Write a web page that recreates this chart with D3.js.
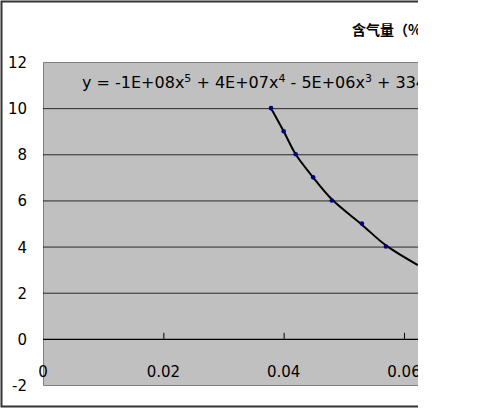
<!DOCTYPE html>
<html><head><meta charset="utf-8">
<script src="https://cdn.jsdelivr.net/npm/d3@7"></script>
<style>body{margin:0;background:#fff}</style>
</head><body>
<svg id="chart" width="500" height="408"></svg>
<script>
const xVals = [0.0379, 0.040, 0.042, 0.0449, 0.048, 0.053, 0.057];
const yVals = [10, 9, 8, 7, 6, 5, 4];
// trend line (continues past the last point to the cut edge)
const trendX = [0.0379, 0.040, 0.042, 0.0449, 0.048, 0.053, 0.057, 0.0623];
const trendY = [10, 9.0, 8.0, 7.0, 6.05, 4.95, 4.05, 3.2];
const xTicks = [0, 0.02, 0.04, 0.06];
const yTicks = [-2, 0, 2, 4, 6, 8, 10, 12];

const svg = d3.select("#chart");
const x = d3.scaleLinear().domain([0, 0.06]).range([43, 404]);
const y = d3.scaleLinear().domain([-2, 12]).range([385, 62]);
const right = 418;

// outer chart border (cut on the right)
svg.append("path").attr("d", `M${right},1.5H1.5V406.5H${right}`)
  .attr("fill", "none").attr("stroke", "#333").attr("stroke-width", 2);

svg.append("rect").attr("x", 43).attr("y", 62).attr("width", right - 43).attr("height", 323)
  .attr("fill", "#c0c0c0");
svg.append("path").attr("d", `M${right},62.5H43.5V385.5H${right}`)
  .attr("fill", "none").attr("stroke", "#808080");

svg.selectAll(".grid").data(yTicks.filter(d => d > -2 && d < 12)).enter().append("line")
  .attr("x1", 43).attr("x2", right).attr("y1", d => y(d) + 0.5).attr("y2", d => y(d) + 0.5)
  .attr("stroke", "#000").attr("stroke-width", d => d === 0 ? 1.2 : 0.8);

svg.selectAll(".yl").data(yTicks).enter().append("text")
  .attr("x", 27).attr("y", d => y(d) + 6).attr("text-anchor", "end")
  .attr("font-family", "DejaVu Sans").attr("font-size", 15).text(d => d);

svg.selectAll(".xt").data(xTicks.slice(1)).enter().append("line")
  .attr("x1", d => x(d) + 0.5).attr("x2", d => x(d) + 0.5)
  .attr("y1", y(0) - 6).attr("y2", y(0)).attr("stroke", "#000");

svg.selectAll(".xl").data(xTicks).enter().append("text")
  .attr("x", d => x(d)).attr("y", y(0) + 38).attr("text-anchor", "middle")
  .attr("font-family", "DejaVu Sans").attr("font-size", 15).text(d => d === 0 ? "0" : d);

const line = d3.line().x(d => x(d)).y((d, i) => y(trendY[i])).curve(d3.curveCatmullRom);
svg.append("path").attr("d", line(trendX)).attr("fill", "none").attr("stroke", "#000").attr("stroke-width", 2);

svg.selectAll(".pt").data(xVals).enter().append("circle")
  .attr("cx", d => x(d)).attr("cy", (d, i) => y(yVals[i])).attr("r", 2.3).attr("fill", "#000080");

svg.append("text").attr("x", 82).attr("y", 88)
  .attr("font-family", "DejaVu Sans").attr("font-size", 16)
  .html('y = -1E+08x<tspan font-size="11" dy="-6">5</tspan><tspan dy="6"> + 4E+07x</tspan><tspan font-size="11" dy="-6">4</tspan><tspan dy="6"> - 5E+06x</tspan><tspan font-size="11" dy="-6">3</tspan><tspan dy="6"> + 3341</tspan>');

svg.append("text").attr("x", 352).attr("y", 35)
  .attr("font-family", "Noto Sans CJK SC").attr("font-size", 14).attr("font-weight", "bold")
  .text("含气量（%");

// white cover for the cut-off right part
svg.append("rect").attr("x", right).attr("y", 0).attr("width", 500 - right).attr("height", 408).attr("fill", "#fff");
</script>
</body></html>
